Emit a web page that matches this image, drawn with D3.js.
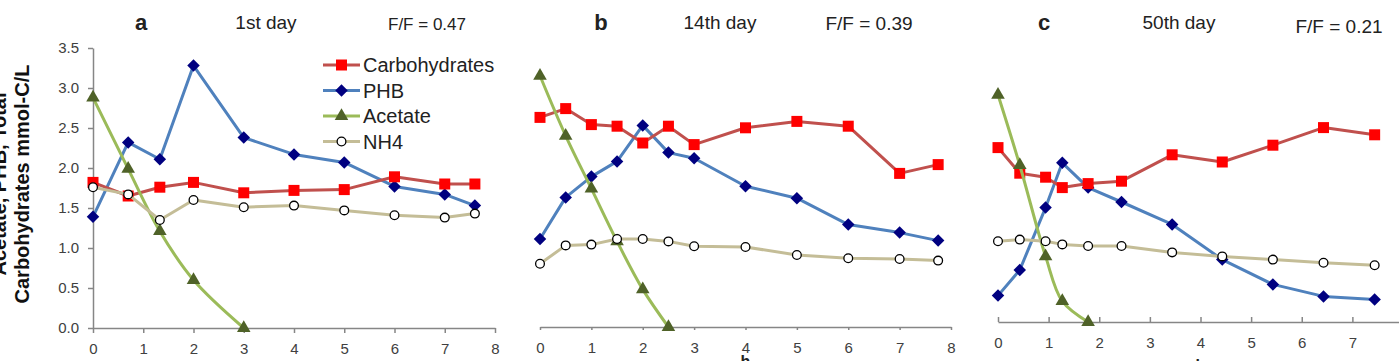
<!DOCTYPE html>
<html>
<head>
<meta charset="utf-8">
<script src="https://cdn.jsdelivr.net/npm/d3@7"></script>
<style>
  body { margin: 0; background: #fff; }
  svg { display: block; font-family: "Liberation Sans", Arial, sans-serif; }
</style>
</head>
<body>
<svg id="chart" width="1399" height="361"></svg>
<script>
// panel a - 1st day
const xA = [0, 0.7, 1.33, 2, 3, 4, 5, 6, 7, 7.6];
const carbA = [1.82, 1.65, 1.76, 1.82, 1.69, 1.72, 1.73, 1.89, 1.80, 1.80];
const phbA = [1.39, 2.32, 2.11, 3.28, 2.38, 2.17, 2.07, 1.77, 1.67, 1.53];
const xAcA = [0, 0.7, 1.33, 2, 3];
const acetA = [2.88, 1.99, 1.21, 0.60, 0.0];
const nh4A = [1.76, 1.67, 1.35, 1.60, 1.51, 1.53, 1.47, 1.41, 1.38, 1.43];

// panel b - 14th day
const xB = [0, 0.5, 1, 1.5, 2, 2.5, 3, 4, 5, 6, 7, 7.75];
const carbB = [2.62, 2.73, 2.53, 2.51, 2.30, 2.51, 2.28, 2.49, 2.57, 2.51, 1.92, 2.03];
const phbB = [1.10, 1.62, 1.88, 2.07, 2.52, 2.18, 2.11, 1.76, 1.61, 1.28, 1.18, 1.08];
const xAcB = [0, 0.5, 1, 1.5, 2, 2.5];
const acetB = [3.14, 2.39, 1.73, 1.07, 0.47, 0.0];
const nh4B = [0.79, 1.02, 1.03, 1.10, 1.10, 1.07, 1.01, 1.00, 0.90, 0.86, 0.85, 0.83];

// panel c - 50th day
const xC = [0, 0.43, 0.94, 1.27, 1.78, 2.44, 3.44, 4.43, 5.43, 6.43, 7.44];
const carbC = [2.18, 1.86, 1.81, 1.68, 1.73, 1.76, 2.09, 2.00, 2.21, 2.43, 2.34];
const phbC = [0.33, 0.65, 1.43, 1.99, 1.68, 1.50, 1.22, 0.78, 0.47, 0.32, 0.28];
const xAcC = [0, 0.43, 0.94, 1.27, 1.78];
const acetC = [2.84, 1.96, 0.82, 0.26, 0.0];
const nh4C = [1.01, 1.03, 1.01, 0.97, 0.95, 0.95, 0.87, 0.82, 0.78, 0.74, 0.71];

const seriesNames = ['Carbohydrates', 'PHB', 'Acetate', 'NH4'];
const yTicks = [0, 0.5, 1, 1.5, 2, 2.5, 3, 3.5];
const xTicks = [0, 1, 2, 3, 4, 5, 6, 7, 8];

const styles = {
  Carbohydrates: { line: '#c0504d', fill: '#ff0000', stroke: 'none', shape: 'square', size: 121, rot: 0 },
  PHB: { line: '#4f81bd', fill: '#000080', stroke: 'none', shape: 'square', size: 78, rot: 45 },
  Acetate: { line: '#9bbb59', fill: '#4f6228', stroke: 'none', shape: 'triangle', size: 80, rot: 0 },
  NH4: { line: '#c4bd97', fill: '#ffffff', stroke: '#000', shape: 'circle', size: 60, rot: 0 }
};

const panels = [
  { letter: 'a', day: '1st day', ff: 'F/F = 0.47', x: xA, xAc: xAcA, carb: carbA, phb: phbA, acet: acetA, nh4: nh4A,
    xr: [93, 495], y0: 328, showY: true, tick: 5, xTickVals: xTicks,
    title: { letterX: 141, dayX: 266, ffX: 427, ffSize: 17, ffY: 30 } },
  { letter: 'b', day: '14th day', ff: 'F/F = 0.39', x: xB, xAc: xAcB, carb: carbB, phb: phbB, acet: acetB, nh4: nh4B,
    xr: [540, 951], y0: 327, showY: false, tick: 3, xTickVals: xTicks,
    title: { letterX: 601, dayX: 720, ffX: 869, ffSize: 19, ffY: 30 }, hY: 367 },
  { letter: 'c', day: '50th day', ff: 'F/F = 0.21', x: xC, xAc: xAcC, carb: carbC, phb: phbC, acet: acetC, nh4: nh4C,
    xr: [998, 1403], y0: 322, showY: false, tick: -5, xTickVals: xTicks.slice(0, 8),
    title: { letterX: 1044, dayX: 1179, ffX: 1339, ffSize: 19, ffY: 33 }, hY: 371 }
];

const svg = d3.select('#chart');

function symbolPath(st) {
  const type = st.shape === 'square' ? d3.symbolSquare : st.shape === 'triangle' ? d3.symbolTriangle : d3.symbolCircle;
  return d3.symbol().type(type).size(st.size)();
}

function drawMarkers(g, pts, st) {
  g.selectAll(null)
    .data(pts)
    .enter()
    .append('path')
    .attr('d', symbolPath(st))
    .attr('transform', d => `translate(${d[0]},${d[1]}) rotate(${st.rot})`)
    .attr('fill', st.fill)
    .attr('stroke', st.stroke)
    .attr('stroke-width', 1.3);
}

panels.forEach(p => {
  const xScale = d3.scaleLinear().domain([0, 8]).range(p.xr);
  const yScale = d3.scaleLinear().domain([0, 3.5]).range([p.y0, p.y0 - 280]);
  const g = svg.append('g');

  // x axis
  const xAxis = d3.axisBottom(xScale)
    .tickValues(p.xTickVals)
    .tickFormat(d3.format('d'))
    .tickSizeInner(p.tick)
    .tickSizeOuter(0)
    .tickPadding(15 - Math.max(p.tick, 0));
  const xg = g.append('g')
    .attr('transform', `translate(0,${p.y0})`)
    .call(xAxis);
  xg.select('.domain').attr('stroke', '#868686').attr('stroke-width', 1.5);
  xg.selectAll('.tick line').attr('stroke', '#868686').attr('stroke-width', 1.5);
  xg.selectAll('.tick text').attr('fill', '#404040').style('font-size', '15px');

  if (p.showY) {
    const yAxis = d3.axisLeft(yScale)
      .tickValues(yTicks)
      .tickFormat(d3.format('.1f'))
      .tickSizeInner(5)
      .tickSizeOuter(0)
      .tickPadding(9);
    const yg = g.append('g')
      .attr('transform', `translate(${p.xr[0]},0)`)
      .call(yAxis);
    yg.select('.domain').attr('stroke', '#868686').attr('stroke-width', 1.5);
    yg.selectAll('.tick line').attr('stroke', '#868686').attr('stroke-width', 1.5);
    yg.selectAll('.tick text').attr('fill', '#404040').style('font-size', '15px');
  }

  const line = d3.line().x(d => d[0]).y(d => d[1]);
  const smooth = d3.line().x(d => d[0]).y(d => d[1]).curve(d3.curveCatmullRom);

  const sets = {
    Carbohydrates: p.x.map((v, i) => [xScale(v), yScale(p.carb[i])]),
    PHB: p.x.map((v, i) => [xScale(v), yScale(p.phb[i])]),
    Acetate: p.xAc.map((v, i) => [xScale(v), yScale(p.acet[i])]),
    NH4: p.x.map((v, i) => [xScale(v), yScale(p.nh4[i])])
  };

  ['PHB', 'Carbohydrates', 'Acetate', 'NH4'].forEach(name => {
    const st = styles[name];
    g.append('path')
      .attr('d', (name === 'Acetate' ? smooth : line)(sets[name]))
      .attr('fill', 'none')
      .attr('stroke', st.line)
      .attr('stroke-width', 3)
      .attr('stroke-linejoin', 'round');
    drawMarkers(g, sets[name], st);
  });

  // titles
  g.append('text')
    .attr('x', p.title.letterX).attr('y', 30)
    .attr('text-anchor', 'middle')
    .style('font-size', '22px').style('font-weight', '700')
    .attr('fill', '#222')
    .text(p.letter);
  g.append('text')
    .attr('x', p.title.dayX).attr('y', 29)
    .attr('text-anchor', 'middle')
    .style('font-size', '19px')
    .attr('fill', '#222')
    .text(p.day);
  g.append('text')
    .attr('x', p.title.ffX).attr('y', p.title.ffY)
    .attr('text-anchor', 'middle')
    .style('font-size', p.title.ffSize + 'px')
    .attr('fill', '#222')
    .text(p.ff);

  if (p.hY) {
    g.append('text')
      .attr('x', xScale(4)).attr('y', p.hY)
      .attr('text-anchor', 'middle')
      .style('font-size', '16px').style('font-weight', '700')
      .attr('fill', '#222')
      .text('h');
  }
});

// y axis title
const yTitle = svg.append('g').attr('transform', 'translate(0,184) rotate(-90)');
yTitle.append('text')
  .attr('x', 0).attr('y', 6)
  .attr('text-anchor', 'middle')
  .style('font-size', '20px').style('font-weight', '700')
  .attr('fill', '#111')
  .text('Acetate, PHB, Total');
yTitle.append('text')
  .attr('x', 0).attr('y', 29)
  .attr('text-anchor', 'middle')
  .style('font-size', '20px').style('font-weight', '700')
  .attr('fill', '#111')
  .text('Carbohydrates mmol-C/L');

// legend (panel a)
const legend = svg.append('g').attr('transform', 'translate(323,65)');
seriesNames.forEach((name, i) => {
  const st = styles[name];
  const row = legend.append('g').attr('transform', `translate(0,${i * 25.5})`);
  row.append('line')
    .attr('x1', 0).attr('x2', 37).attr('y1', 0).attr('y2', 0)
    .attr('stroke', st.line).attr('stroke-width', 3);
  drawMarkers(row, [[18.5, 0]], st);
  row.append('text')
    .attr('x', 40).attr('y', 7)
    .style('font-size', '20px')
    .attr('fill', '#222')
    .text(name);
});
</script>
</body>
</html>
